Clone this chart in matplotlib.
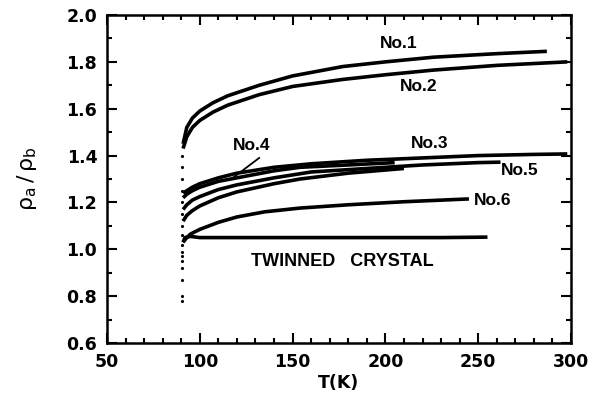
import matplotlib
matplotlib.use("Agg")
import matplotlib.pyplot as plt
from matplotlib.ticker import MultipleLocator

# rho_a / rho_b against temperature
t_no1 = [91, 93, 96, 100, 107, 115, 132, 150, 177, 200, 226, 260, 287]
r_no1 = [1.45, 1.52, 1.56, 1.59, 1.625, 1.655, 1.70, 1.74, 1.78, 1.80, 1.82, 1.835, 1.845]

t_no2 = [91, 93, 96, 100, 107, 115, 132, 150, 177, 200, 226, 260, 298]
r_no2 = [1.43, 1.48, 1.52, 1.55, 1.585, 1.615, 1.66, 1.695, 1.725, 1.745, 1.765, 1.785, 1.80]

t_no3 = [91, 93, 96, 100, 110, 120, 140, 160, 190, 220, 250, 280, 298]
r_no3 = [1.24, 1.25, 1.265, 1.28, 1.305, 1.325, 1.35, 1.365, 1.38, 1.39, 1.40, 1.405, 1.407]

t_no4 = [91, 93, 96, 100, 110, 120, 140, 154, 180, 205]
r_no4 = [1.22, 1.235, 1.25, 1.265, 1.29, 1.305, 1.335, 1.35, 1.36, 1.37]

t_no5 = [91, 93, 96, 100, 110, 120, 140, 160, 190, 220, 250, 262]
r_no5 = [1.17, 1.19, 1.21, 1.225, 1.255, 1.275, 1.305, 1.33, 1.345, 1.36, 1.37, 1.372]

t_extra = [91, 93, 96, 100, 110, 120, 140, 154, 180, 210]
r_extra = [1.12, 1.145, 1.165, 1.185, 1.22, 1.245, 1.28, 1.30, 1.325, 1.345]

t_no6 = [91, 93, 95, 100, 110, 120, 135, 154, 180, 210, 245]
r_no6 = [1.03, 1.05, 1.065, 1.085, 1.115, 1.138, 1.16, 1.176, 1.19, 1.203, 1.215]

t_twin = [91, 92, 95, 100, 130, 160, 200, 230, 255]
r_twin = [1.03, 1.05, 1.055, 1.05, 1.05, 1.05, 1.05, 1.05, 1.052]

# scattered points of the superconducting drop
t_drop = [90.5] * 16
r_drop = [0.78, 0.80, 0.87, 0.92, 0.95, 0.97, 0.99, 1.02, 1.06, 1.10, 1.15, 1.20,
          1.25, 1.30, 1.35, 1.40]

plt.rcParams['font.family'] = ['DejaVu Sans']
plt.rcParams['mathtext.default'] = 'regular'

fig = plt.figure(figsize=(6.02, 3.96), dpi=100)
ax = fig.add_axes([0.1777, 0.1338, 0.7708, 0.8283])

lw = 2.6
for t, r in [(t_no1, r_no1), (t_no2, r_no2), (t_no3, r_no3), (t_no4, r_no4),
             (t_no5, r_no5), (t_extra, r_extra), (t_no6, r_no6), (t_twin, r_twin)]:
    ax.plot(t, r, color='k', lw=lw, solid_capstyle='butt')
ax.plot(t_drop, r_drop, 'k.', ms=2.5)

ax.set_xlim(50, 300)
ax.set_ylim(0.6, 2.0)
ax.xaxis.set_minor_locator(MultipleLocator(10))
ax.yaxis.set_minor_locator(MultipleLocator(0.1))
ax.set_xticks([50, 100, 150, 200, 250, 300])
ax.set_xticklabels(['50', '100', '150', '200', '250', '300'])
ax.set_yticks([0.6, 0.8, 1.0, 1.2, 1.4, 1.6, 1.8, 2.0])
ax.set_yticklabels(['0.6', '0.8', '1.0', '1.2', '1.4', '1.6', '1.8', '2.0'])
ax.tick_params(which='both', direction='in', top=True, right=True, width=1.5)
ax.tick_params(which='major', length=7, pad=7, labelsize=12.5)
ax.tick_params(which='minor', length=3.5)
for lab in ax.get_xticklabels() + ax.get_yticklabels():
    lab.set_fontweight('bold')
for s in ax.spines.values():
    s.set_linewidth(1.8)

ax.set_xlabel('T(K)', fontsize=12.5, fontweight='bold', labelpad=2)
ax.set_ylabel(r'$\rho_a\,/\,\rho_b$', fontsize=16, labelpad=20)

lab_kw = dict(fontsize=12.5, fontweight='bold', family=['Liberation Sans', 'DejaVu Sans'],
              va='center', ha='left')
ax.text(197, 1.88, 'No.1', **lab_kw)
ax.text(208, 1.693, 'No.2', **lab_kw)
ax.text(214, 1.453, 'No.3', **lab_kw)
ax.text(118, 1.445, 'No.4', **lab_kw)
ax.text(262, 1.338, 'No.5', **lab_kw)
ax.text(247.5, 1.21, 'No.6', **lab_kw)
ax.text(177, 0.946, 'TWINNED   CRYSTAL', fontsize=13, fontweight='bold',
        family=['Liberation Sans', 'DejaVu Sans'], va='center', ha='center')
ax.plot([132, 117], [1.39, 1.30], color='k', lw=1.3)

fig.savefig('out.png', dpi=100)
